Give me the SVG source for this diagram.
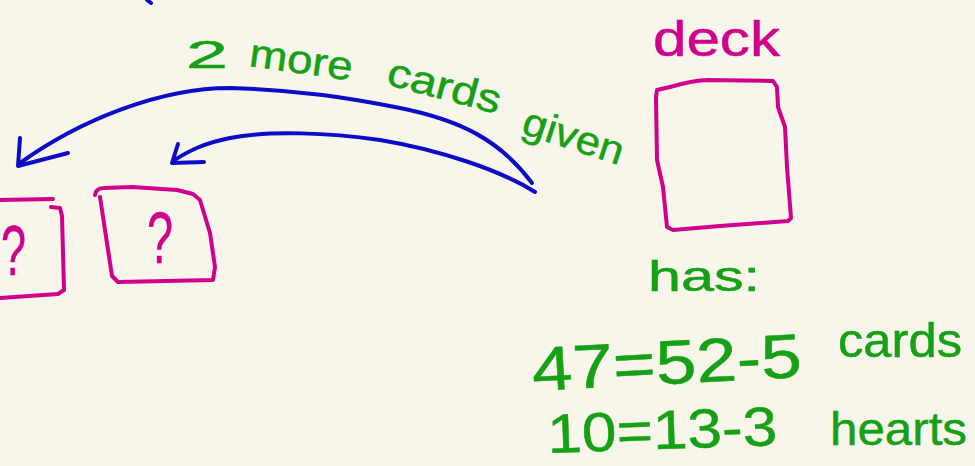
<svg xmlns="http://www.w3.org/2000/svg" width="975" height="466" viewBox="0 0 975 466">
<style>
.bg{fill:#f8f6ea}
.pk{fill:none;stroke:#d0008a;stroke-width:4;stroke-linecap:round;stroke-linejoin:round}
.bl{fill:none;stroke:#0c0cc8;stroke-width:4;stroke-linecap:round;stroke-linejoin:round}
.g{fill:#15a015;stroke:#15a015;stroke-width:0.5;font-family:"Liberation Sans",Arial,sans-serif}
.m{fill:#d0008a;stroke:#d0008a;stroke-width:0.5;font-family:"Liberation Sans",Arial,sans-serif}
</style>
<rect class="bg" x="0" y="0" width="975" height="466"/>
<g id="connectors">
<path class="bl" d="M147,0 L151,3"/>
<path class="bl" d="M532,183 C500,140 460,120 400,108 C350,98 300,90 230,88 C160,88 80,120 20,163"/>
<path class="bl" d="M20,138 L18,166 L68,153"/>
<path class="bl" d="M535,192 C500,170 440,150 380,140 C330,133 270,130 230,138 C205,143 190,150 173,161"/>
<path class="bl" d="M178,144 L172,163 L204,162"/>
</g>
<g id="label-given">
<text class="g" x="186" y="68" font-size="38" textLength="42" lengthAdjust="spacingAndGlyphs">2</text>
<text class="g" x="248" y="66" font-size="40" textLength="104" lengthAdjust="spacingAndGlyphs" transform="rotate(8 248 66)">more</text>
<text class="g" x="385" y="84" font-size="40" textLength="116" lengthAdjust="spacingAndGlyphs" transform="rotate(15 385 84)">cards</text>
<text class="g" x="520" y="133" font-size="40" textLength="104" lengthAdjust="spacingAndGlyphs" transform="rotate(18 520 133)">given</text>
</g>
<g id="card1">
<path class="pk" d="M0,200 L53,199"/>
<path class="pk" d="M51,207 L60,208 L62,216 L64,290 L58,294 L0,298"/>
<text class="m" x="1" y="275" font-size="70" textLength="25" lengthAdjust="spacingAndGlyphs">?</text>
</g>
<g id="card2">
<path class="pk" d="M95,195 Q96,188 104,188 L132,187 L177,190 L193,194 L200,200 L210,233 L215,267 L213,280 L118,282 L112,276 L100,197"/>
<text class="m" x="147" y="263" font-size="72" textLength="26" lengthAdjust="spacingAndGlyphs">?</text>
</g>
<g id="deck">
<text class="m" x="653" y="56" font-size="50" textLength="127" lengthAdjust="spacingAndGlyphs">deck</text>
<path class="pk" d="M657,90 L670,87 Q690,81 707,80 L773,81 L777,87 L778,107 L785,127 L787,167 L791,218 L788,221 L720,226 L673,230 L667,227 L663,187 L657,160 L656,97 Z"/>
</g>
<g id="deck-info">
<text class="g" x="648" y="291" font-size="42" textLength="112" lengthAdjust="spacingAndGlyphs">has:</text>
<text class="g" x="533" y="391" font-size="62" textLength="270" lengthAdjust="spacingAndGlyphs" transform="rotate(-3 533 391)">47=52-5</text>
<text class="g" x="838" y="357" font-size="48" textLength="124" lengthAdjust="spacingAndGlyphs">cards</text>
<text class="g" x="548" y="453" font-size="55" textLength="230" lengthAdjust="spacingAndGlyphs" transform="rotate(-2 548 453)">10=13-3</text>
<text class="g" x="830" y="445" font-size="46" textLength="137" lengthAdjust="spacingAndGlyphs">hearts</text>
</g>
</svg>
